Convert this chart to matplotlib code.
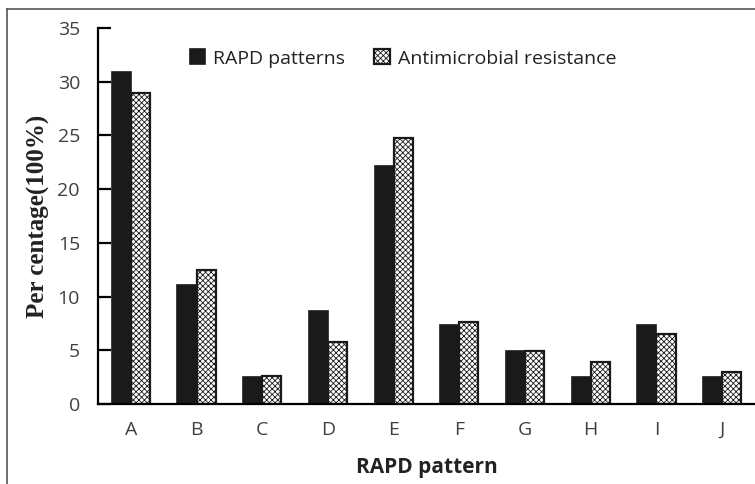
import matplotlib
matplotlib.use("Agg")
import matplotlib.pyplot as plt
import numpy as np
from matplotlib.lines import Line2D

patterns = ["A", "B", "C", "D", "E", "F", "G", "H", "I", "J"]
rapd = [30.9, 11.1, 2.5, 8.7, 22.2, 7.4, 4.9, 2.5, 7.4, 2.5]
resistance = [29.0, 12.5, 2.6, 5.8, 24.8, 7.6, 4.9, 3.9, 6.5, 3.0]

plt.rcParams['hatch.color'] = '#a8a8a8'
plt.rcParams['hatch.linewidth'] = 0.6

fig = plt.figure(figsize=(7.55, 4.84), dpi=100)
ax = fig.add_axes([0.1298, 0.1653, 0.8702, 0.7767])

x = np.arange(len(patterns))
w = 0.29
ax.bar(x - w/2, rapd, w, color='#1a1a1a', edgecolor='#1a1a1a', linewidth=1.2,
       label='RAPD patterns')
ax.bar(x + w/2, resistance, w, color='white', edgecolor='#1a1a1a', linewidth=1.6,
       hatch='xxxxxx', label='Antimicrobial resistance')

ax.set_xlim(-0.5, len(patterns) - 0.5)
ax.set_ylim(0, 35)
ax.set_yticks(range(0, 36, 5))
ax.set_xticks(x)
ax.set_xticklabels(patterns)
for s in ['top', 'right']:
    ax.spines[s].set_visible(False)
ax.spines['left'].set_linewidth(1.6)
ax.spines['bottom'].set_linewidth(1.6)
ax.tick_params(axis='y', direction='in', length=9, width=1.6, pad=13,
               labelsize=14, labelcolor='#404040')
ax.tick_params(axis='x', length=0, pad=12, labelsize=14, labelcolor='#404040')
for t in ax.get_xticklabels() + ax.get_yticklabels():
    t.set_family('Open Sans')

ax.set_ylabel('Per centage(100%)', family='Liberation Serif', fontweight='bold',
              fontsize=18, color='#222222', labelpad=5)
ax.set_xlabel('RAPD pattern', family='Open Sans', fontweight='bold',
              fontsize=15, color='#222222', labelpad=13)

leg = ax.legend(loc='upper left', bbox_to_anchor=(0.113, 0.99), ncol=2, frameon=False,
                prop={'family': 'Open Sans', 'size': 14}, handlelength=0.8,
                handleheight=0.8, handletextpad=0.4, columnspacing=1.5)
for t in leg.get_texts():
    t.set_color('#222222')

# outer frame of the original image
fig.add_artist(Line2D([0.0093, 0.0093], [0.0, 0.9814], color='#555555', lw=1.2))
fig.add_artist(Line2D([0.0093, 1.0], [0.9814, 0.9814], color='#555555', lw=1.2))

fig.savefig('out.png', dpi=100)
